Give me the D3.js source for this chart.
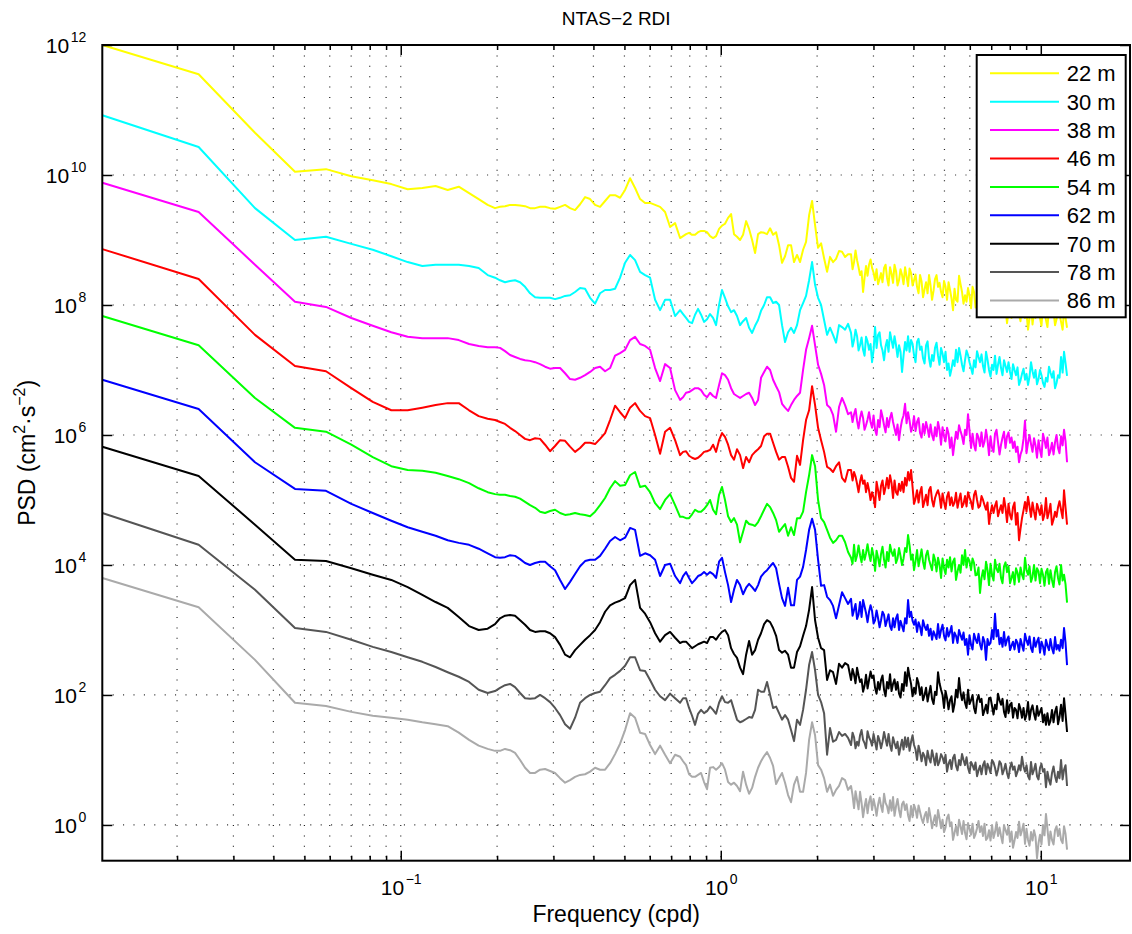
<!DOCTYPE html>
<html>
<head>
<meta charset="utf-8">
<script src="https://cdnjs.cloudflare.com/ajax/libs/d3/7.8.5/d3.min.js"></script>
<style>
  body { margin: 0; background: #fff; }
  svg { font-family: "Liberation Sans", Arial, Helvetica, sans-serif; }
</style>
</head>
<body>
<svg></svg>
<script>
// frequency (cpd), shared by every depth
let freq = [
  0.01168, 0.02336, 0.03504, 0.04672, 0.0584, 0.07008, 0.08176, 0.09344, 0.1051, 0.1168, 0.1285, 0.1402, 0.1518, 0.1635, 0.1752, 0.1869,
  0.1971, 0.2043, 0.2118, 0.2196, 0.2276, 0.2360, 0.2446, 0.2536, 0.2629, 0.2725, 0.2825, 0.2928, 0.3035, 0.3147, 0.3262, 0.3381, 0.3505, 0.3634, 0.3767, 0.3905,
  0.4048, 0.4196, 0.4350, 0.4509, 0.4674, 0.4846, 0.5023, 0.5207, 0.5398, 0.5596, 0.5801, 0.6013, 0.6234, 0.6462, 0.6699, 0.6944, 0.7199, 0.7462,
  0.7624, 0.7790, 0.7960, 0.8134, 0.8311, 0.8493, 0.8678, 0.8867, 0.9061, 0.9258,
  0.9461, 0.9667, 0.9878, 1.009, 1.031, 1.054, 1.077, 1.100, 1.124, 1.149,
  1.174, 1.200, 1.226, 1.253, 1.280, 1.308, 1.336, 1.366, 1.395, 1.426,
  1.457, 1.489, 1.521, 1.554, 1.588, 1.623, 1.658, 1.694, 1.731, 1.769,
  1.808, 1.847, 1.888, 1.929, 1.971, 2.014, 2.058, 2.103, 2.149, 2.195,
  2.243, 2.292, 2.342, 2.393, 2.446, 2.499, 2.553, 2.609, 2.666, 2.724,
  2.784, 2.844, 2.906, 2.970, 3.035, 3.101, 3.168, 3.238, 3.308, 3.380,
  3.454, 3.529, 3.606, 3.685, 3.766, 3.848, 3.932, 4.017, 4.105, 4.195,
  4.286, 4.380, 4.475, 4.573, 4.672, 4.774, 4.879, 4.985, 5.094, 5.205,
  5.318, 5.434, 5.553, 5.674, 5.798, 5.924, 6.054, 6.186, 6.321, 6.458,
  6.599, 6.743, 6.890, 7.041, 7.194, 7.351, 7.512, 7.675, 7.843, 8.014,
  8.189, 8.367, 8.550, 8.736, 8.927, 9.122, 9.321, 9.524, 9.732, 9.944,
  10.16, 10.38, 10.61, 10.84, 11.08, 11.32, 11.57, 11.82, 12.08
];

// log10 of PSD, one array per depth
let psd22 = [
  12.00, 11.55, 10.65, 10.05, 10.09, 9.98, 9.92, 9.86, 9.78, 9.80, 9.83, 9.77, 9.82, 9.72, 9.63, 9.54,
  9.49, 9.51, 9.52, 9.54, 9.54, 9.53, 9.52, 9.49, 9.49, 9.51, 9.51, 9.49, 9.48, 9.51, 9.54, 9.49, 9.46, 9.55, 9.66, 9.63,
  9.54, 9.51, 9.60, 9.69, 9.69, 9.65, 9.77, 9.95, 9.80, 9.63, 9.57, 9.57, 9.54, 9.51, 9.43, 9.20, 9.26, 9.03,
  9.06, 9.09, 9.11, 9.08, 9.08, 9.12, 9.14, 9.14, 9.12, 9.06,
  9.03, 9.06, 9.17, 9.22, 9.25, 9.34, 9.40, 9.09, 9.05, 9.00,
  9.08, 9.29, 9.17, 9.00, 8.80, 9.09, 9.12, 9.11, 9.09, 9.18,
  9.08, 9.12, 8.92, 8.65, 8.75, 8.92, 8.92, 8.66, 8.77, 8.66,
  8.85, 8.97, 9.38, 9.60, 9.23, 8.88, 8.95, 8.72, 8.51, 8.74,
  8.66, 8.71, 8.83, 8.82, 8.74, 8.78, 8.78, 8.66, 8.69, 8.46,
  8.20, 8.60, 8.62, 8.57, 8.38, 8.32, 8.49, 8.57, 8.42, 8.58,
  8.34, 8.52, 8.38, 8.46, 8.58, 8.29, 8.49, 8.38, 8.28, 8.46,
  8.12, 8.35, 8.46, 8.08, 8.40, 8.28, 8.20, 8.37, 8.08, 8.23,
  7.92, 8.08, 8.45, 8.20, 8.15, 8.26, 7.95, 8.20, 8.08, 8.26,
  8.00, 8.14, 7.92, 8.11, 7.98, 8.20, 7.89, 8.08, 7.72, 8.11,
  7.92, 8.05, 7.85, 8.08, 7.80, 7.62, 8.00, 7.89, 8.08, 7.80,
  8.00, 7.77, 7.95, 7.85, 7.69, 8.00, 7.74, 7.92, 7.65
];
let psd30 = [
  10.92, 10.43, 9.49, 9.00, 9.05, 8.94, 8.85, 8.75, 8.66, 8.60, 8.62, 8.62, 8.62, 8.60, 8.57, 8.46,
  8.42, 8.38, 8.35, 8.37, 8.38, 8.35, 8.28, 8.18, 8.12, 8.11, 8.11, 8.11, 8.09, 8.11, 8.14, 8.15, 8.20, 8.26, 8.25, 8.11,
  8.02, 8.18, 8.23, 8.23, 8.25, 8.42, 8.65, 8.77, 8.69, 8.51, 8.46, 8.42, 8.08, 7.92, 8.08, 8.08, 7.83, 7.92,
  7.86, 7.80, 7.74, 7.72, 7.85, 7.94, 7.85, 7.74, 7.78, 7.86,
  7.80, 7.69, 8.00, 8.23, 8.11, 7.98, 7.89, 7.92, 7.83, 7.69,
  7.75, 7.80, 7.65, 7.57, 7.68, 7.77, 7.91, 8.00, 8.12, 8.12,
  8.03, 8.05, 8.00, 7.69, 7.43, 7.58, 7.65, 7.57, 7.69, 7.92,
  8.03, 8.14, 8.38, 8.66, 8.31, 8.11, 8.00, 7.77, 7.54, 7.65,
  7.54, 7.42, 7.69, 7.66, 7.62, 7.71, 7.57, 7.46, 7.52, 7.38,
  7.31, 7.51, 7.31, 7.12, 7.66, 7.54, 7.38, 7.15, 7.46, 7.58,
  7.34, 7.38, 7.38, 6.97, 7.43, 7.52, 7.46, 7.23, 7.43, 7.31,
  7.18, 7.38, 7.18, 7.23, 7.34, 7.22, 7.34, 7.12, 7.00, 6.91,
  7.15, 7.31, 7.34, 7.08, 7.15, 7.23, 7.03, 7.15, 7.29, 7.12,
  7.06, 7.28, 7.00, 7.08, 7.22, 7.08, 7.03, 7.15, 6.97, 6.97,
  7.09, 6.92, 6.77, 6.94, 6.85, 6.77, 7.12, 6.88, 6.78, 7.00,
  6.80, 6.88, 7.05, 6.88, 6.72, 6.92, 7.20, 7.28, 6.91
];
let psd38 = [
  9.88, 9.43, 8.62, 8.05, 7.97, 7.80, 7.68, 7.58, 7.51, 7.49, 7.49, 7.49, 7.46, 7.40, 7.37, 7.35,
  7.35, 7.34, 7.29, 7.23, 7.20, 7.17, 7.15, 7.14, 7.12, 7.09, 7.05, 7.02, 7.03, 7.03, 6.95, 6.86, 6.85, 6.88, 6.92, 6.97,
  7.03, 7.05, 6.98, 7.03, 7.22, 7.26, 7.31, 7.46, 7.51, 7.40, 7.37, 7.31, 7.03, 6.83, 7.09, 7.03, 6.69, 6.54,
  6.58, 6.65, 6.66, 6.69, 6.72, 6.72, 6.69, 6.62, 6.58, 6.65,
  6.60, 6.57, 6.77, 6.95, 6.92, 6.85, 6.72, 6.63, 6.60, 6.57,
  6.60, 6.63, 6.65, 6.57, 6.46, 6.54, 6.88, 6.97, 7.05, 7.00,
  6.85, 6.75, 6.66, 6.48, 6.42, 6.37, 6.46, 6.54, 6.60, 6.65,
  7.00, 7.31, 7.49, 7.68, 7.38, 7.08, 6.94, 6.77, 6.46, 6.42,
  6.31, 6.05, 6.43, 6.57, 6.46, 6.32, 6.35, 6.32, 6.22, 6.26,
  6.26, 6.15, 6.35, 6.11, 6.08, 6.23, 6.38, 6.15, 6.26, 6.26,
  6.20, 6.00, 5.92, 6.23, 6.48, 6.35, 6.05, 6.29, 6.20, 6.03,
  6.17, 6.20, 5.97, 6.00, 6.12, 6.20, 5.85, 5.98, 6.11, 5.80,
  5.69, 6.05, 6.15, 5.98, 6.08, 6.32, 5.80, 5.85, 6.02, 5.83,
  5.82, 6.08, 5.69, 5.80, 6.02, 5.89, 5.85, 6.05, 5.98, 5.88,
  5.80, 5.74, 5.58, 5.77, 6.22, 5.88, 5.86, 5.95, 5.65, 5.77,
  6.02, 5.80, 5.69, 5.88, 5.89, 5.80, 5.98, 6.08, 5.58
];
let psd46 = [
  8.86, 8.40, 7.54, 7.06, 6.98, 6.72, 6.51, 6.38, 6.38, 6.42, 6.46, 6.49, 6.49, 6.38, 6.29, 6.25,
  6.23, 6.20, 6.17, 6.11, 6.06, 6.00, 5.94, 5.92, 5.95, 5.94, 5.85, 5.75, 5.83, 5.92, 5.91, 5.82, 5.74, 5.80, 5.88, 5.88,
  5.86, 5.94, 6.03, 6.23, 6.45, 6.35, 6.26, 6.42, 6.49, 6.37, 6.29, 6.26, 6.00, 5.71, 6.05, 6.11, 5.92, 5.69,
  5.74, 5.75, 5.68, 5.65, 5.63, 5.65, 5.69, 5.74, 5.75, 5.77,
  5.85, 5.74, 5.92, 6.03, 5.97, 5.85, 5.69, 5.62, 5.78, 5.69,
  5.49, 5.66, 5.58, 5.69, 5.74, 5.78, 5.83, 5.98, 6.02, 6.02,
  5.88, 5.74, 5.62, 5.66, 5.66, 5.51, 5.34, 5.28, 5.68, 5.54,
  5.92, 6.23, 6.38, 6.75, 6.46, 6.11, 5.92, 5.74, 5.51, 5.48,
  5.43, 5.52, 5.58, 5.34, 5.28, 5.46, 5.46, 5.43, 5.25, 5.28,
  5.25, 5.12, 5.15, 5.12, 4.89, 5.15, 5.22, 5.09, 5.34, 5.38,
  5.03, 5.12, 5.25, 5.28, 5.34, 5.43, 5.46, 4.94, 5.15, 5.12,
  4.89, 5.08, 5.15, 5.00, 5.03, 5.15, 4.88, 4.97, 5.05, 4.92,
  4.91, 5.11, 5.00, 4.89, 5.06, 5.12, 4.97, 5.08, 5.00, 4.91,
  5.00, 4.85, 4.63, 4.92, 4.91, 4.75, 4.92, 5.03, 4.66, 4.77,
  4.89, 4.62, 4.38, 4.72, 4.97, 5.05, 4.74, 4.82, 4.94, 4.77,
  4.69, 5.03, 4.82, 4.62, 4.82, 4.89, 4.85, 5.15, 4.62
];
let psd54 = [
  7.83, 7.38, 6.57, 6.11, 6.05, 5.85, 5.66, 5.52, 5.46, 5.45, 5.42, 5.37, 5.32, 5.26, 5.18, 5.12,
  5.09, 5.08, 5.08, 5.06, 5.05, 5.02, 4.97, 4.92, 4.88, 4.82, 4.80, 4.83, 4.85, 4.80, 4.77, 4.78, 4.80, 4.78, 4.77, 4.75,
  4.82, 4.92, 5.03, 5.18, 5.29, 5.22, 5.23, 5.38, 5.43, 5.20, 5.22, 5.12, 4.95, 4.86, 5.00, 5.09, 4.92, 4.74,
  4.74, 4.72, 4.72, 4.78, 4.85, 4.82, 4.82, 4.86, 4.92, 5.00,
  4.85, 4.78, 5.08, 5.20, 5.00, 4.75, 4.66, 4.72, 4.62, 4.35,
  4.51, 4.68, 4.63, 4.62, 4.60, 4.66, 4.75, 4.85, 4.94, 4.89,
  4.80, 4.69, 4.51, 4.57, 4.63, 4.45, 4.58, 4.46, 4.72, 4.72,
  4.82, 5.12, 5.38, 5.69, 5.52, 5.00, 4.72, 4.66, 4.54, 4.42,
  4.34, 4.38, 4.45, 4.45, 4.35, 4.20, 4.11, 4.31, 4.15, 4.15,
  4.23, 4.18, 4.17, 4.26, 3.91, 4.11, 4.17, 4.08, 4.20, 4.31,
  4.14, 4.03, 4.26, 4.00, 4.26, 4.46, 4.08, 3.92, 4.23, 4.11,
  4.05, 4.15, 4.08, 3.92, 4.08, 4.11, 3.80, 3.95, 4.08, 4.12,
  4.05, 3.77, 4.00, 4.15, 4.23, 4.11, 3.92, 4.03, 3.85, 3.57,
  3.92, 4.05, 3.69, 3.85, 4.08, 3.89, 3.80, 3.98, 3.89, 3.72,
  3.89, 3.95, 3.74, 3.85, 4.11, 3.85, 3.74, 4.00, 3.95, 3.72,
  3.85, 3.89, 3.71, 3.77, 3.89, 3.80, 4.00, 3.85, 3.42
];
let psd62 = [
  6.85, 6.40, 5.58, 5.17, 5.14, 4.94, 4.80, 4.68, 4.58, 4.51, 4.45, 4.38, 4.34, 4.31, 4.25, 4.18,
  4.12, 4.11, 4.12, 4.15, 4.14, 4.09, 4.03, 4.00, 4.03, 4.05, 4.05, 3.98, 3.92, 3.77, 3.63, 3.74, 3.86, 3.98, 4.06, 4.08,
  4.08, 4.14, 4.25, 4.37, 4.43, 4.38, 4.42, 4.57, 4.54, 4.14, 4.18, 4.15, 4.08, 3.83, 4.00, 4.02, 3.83, 3.72,
  3.83, 3.89, 3.80, 3.72, 3.77, 3.83, 3.85, 3.89, 3.85, 3.89,
  3.86, 3.80, 4.05, 4.11, 3.89, 3.69, 3.43, 3.62, 3.77, 3.69,
  3.55, 3.65, 3.71, 3.66, 3.60, 3.69, 3.82, 3.88, 3.92, 3.98,
  4.03, 3.95, 3.71, 3.49, 3.37, 3.65, 3.38, 3.38, 3.77, 3.82,
  3.97, 4.23, 4.54, 4.71, 4.54, 4.08, 3.68, 3.69, 3.51, 3.46,
  3.37, 3.18, 3.38, 3.58, 3.49, 3.40, 3.48, 3.31, 3.17, 3.43,
  3.46, 3.26, 3.28, 3.29, 3.15, 3.18, 3.15, 3.23, 3.15, 3.06,
  3.18, 3.18, 3.00, 3.06, 3.18, 3.46, 3.28, 3.08, 2.97, 3.05,
  3.15, 3.00, 2.91, 2.85, 2.92, 3.09, 3.00, 2.91, 3.03, 2.97,
  2.80, 2.91, 3.00, 2.85, 2.77, 2.62, 2.77, 2.94, 2.80, 2.78,
  2.89, 2.54, 2.77, 3.00, 3.25, 3.00, 2.88, 2.97, 2.85, 2.69,
  2.82, 2.85, 2.66, 2.77, 2.94, 2.77, 2.72, 2.88, 2.82, 2.65,
  2.75, 2.85, 2.69, 2.72, 2.89, 2.77, 2.85, 3.03, 2.46
];
let psd70 = [
  5.82, 5.37, 4.62, 4.08, 4.06, 3.95, 3.85, 3.77, 3.66, 3.54, 3.43, 3.34, 3.20, 3.06, 3.00, 3.02,
  3.09, 3.18, 3.22, 3.23, 3.22, 3.15, 3.08, 3.00, 2.97, 2.98, 2.98, 2.95, 2.89, 2.77, 2.62, 2.58, 2.69, 2.77, 2.85, 2.92,
  3.00, 3.12, 3.28, 3.38, 3.42, 3.45, 3.49, 3.69, 3.77, 3.34, 3.25, 3.12, 2.95, 2.82, 2.92, 2.97, 2.88, 2.80,
  2.82, 2.82, 2.77, 2.72, 2.75, 2.78, 2.80, 2.82, 2.80, 2.89,
  2.89, 2.85, 2.92, 2.97, 3.00, 2.92, 2.72, 2.63, 2.57, 2.42,
  2.32, 2.62, 2.83, 2.62, 2.69, 2.85, 2.95, 3.09, 3.15, 3.12,
  3.03, 2.91, 2.69, 2.65, 2.68, 2.62, 2.42, 2.42, 2.66, 2.75,
  2.91, 3.06, 3.31, 3.66, 3.15, 2.88, 2.72, 2.69, 2.23, 2.38,
  2.35, 2.17, 2.48, 2.42, 2.49, 2.46, 2.23, 2.31, 2.42, 2.20,
  2.05, 2.31, 2.23, 2.26, 2.11, 2.20, 2.23, 2.08, 2.20, 2.32,
  2.17, 2.08, 2.02, 2.17, 2.35, 2.42, 2.17, 2.11, 2.26, 2.00,
  1.92, 2.11, 2.02, 1.94, 2.05, 2.35, 2.08, 1.80, 1.95, 1.92,
  1.74, 2.08, 2.26, 1.92, 1.88, 2.08, 1.92, 1.80, 1.92, 1.89,
  1.69, 1.85, 1.95, 1.83, 1.85, 2.02, 1.85, 1.74, 1.92, 1.85,
  1.65, 1.77, 1.86, 1.65, 1.62, 1.89, 1.77, 1.71, 1.83, 1.74,
  1.58, 1.54, 1.54, 1.77, 1.74, 1.55, 1.85, 1.95, 1.43
];
let psd78 = [
  4.80, 4.31, 3.62, 3.03, 2.97, 2.85, 2.74, 2.66, 2.58, 2.51, 2.43, 2.35, 2.28, 2.20, 2.08, 2.03,
  2.06, 2.11, 2.15, 2.17, 2.12, 2.03, 1.95, 1.94, 1.95, 2.00, 1.95, 1.89, 1.80, 1.69, 1.55, 1.48, 1.65, 1.88, 1.95, 2.00,
  2.03, 2.05, 2.15, 2.26, 2.31, 2.37, 2.45, 2.58, 2.58, 2.38, 2.37, 2.23, 2.08, 1.98, 1.92, 2.02, 1.95, 1.88,
  1.95, 1.95, 1.80, 1.68, 1.54, 1.71, 1.77, 1.72, 1.75, 1.82,
  1.77, 1.71, 1.88, 1.98, 1.89, 1.88, 1.92, 1.77, 1.62, 1.58,
  1.60, 1.63, 1.66, 1.65, 1.77, 2.08, 2.05, 2.05, 2.20, 2.00,
  1.80, 1.82, 1.72, 1.62, 1.69, 1.62, 1.46, 1.29, 1.62, 1.54,
  1.77, 2.08, 2.46, 2.66, 2.38, 2.00, 1.89, 1.72, 1.08, 1.49,
  1.28, 1.31, 1.43, 1.37, 1.40, 1.34, 1.23, 1.35, 1.28, 1.38,
  1.31, 1.18, 1.35, 1.22, 1.28, 1.37, 1.18, 1.43, 1.22, 1.23,
  1.35, 1.18, 1.08, 1.31, 1.35, 1.34, 1.28, 1.23, 1.00, 1.12,
  1.11, 0.92, 1.03, 1.15, 0.92, 0.92, 1.09, 0.95, 0.82, 1.00,
  1.03, 0.91, 1.00, 1.09, 0.92, 0.88, 0.97, 0.85, 0.75, 0.91,
  0.92, 0.78, 0.88, 1.00, 0.88, 0.85, 0.94, 0.85, 0.80, 0.88,
  0.85, 0.75, 0.92, 1.05, 0.82, 0.75, 0.97, 0.85, 0.75, 0.88,
  0.82, 0.58, 0.69, 0.80, 0.75, 0.82, 1.00, 0.85, 0.60
];
let psd86 = [
  3.80, 3.35, 2.54, 1.88, 1.83, 1.74, 1.68, 1.65, 1.62, 1.58, 1.55, 1.52, 1.42, 1.31, 1.22, 1.17,
  1.14, 1.14, 1.17, 1.15, 1.11, 1.00, 0.88, 0.80, 0.80, 0.85, 0.86, 0.83, 0.80, 0.72, 0.65, 0.69, 0.74, 0.77, 0.78, 0.82,
  0.88, 0.85, 0.85, 0.95, 1.09, 1.25, 1.46, 1.72, 1.65, 1.42, 1.40, 1.23, 1.09, 1.22, 1.08, 0.95, 1.08, 1.05,
  0.98, 0.92, 0.78, 0.74, 0.74, 0.77, 0.80, 0.66, 0.55, 0.88,
  0.89, 0.85, 0.89, 0.95, 0.85, 0.66, 0.62, 0.65, 0.60, 0.52,
  0.82, 0.62, 0.48, 0.57, 0.74, 0.88, 0.98, 1.06, 1.12, 1.03,
  0.91, 0.63, 0.72, 0.80, 0.65, 0.46, 0.35, 0.62, 0.74, 0.51,
  0.51, 0.80, 1.31, 1.58, 1.38, 0.92, 0.85, 0.72, 0.51, 0.62,
  0.45, 0.54, 0.60, 0.72, 0.69, 0.54, 0.60, 0.26, 0.38, 0.51,
  0.12, 0.40, 0.35, 0.23, 0.29, 0.31, 0.29, 0.48, 0.29, 0.38,
  0.43, 0.29, 0.23, 0.32, 0.23, 0.15, 0.29, 0.31, 0.11, 0.20,
  0.03, 0.20, 0.26, -0.05, 0.15, 0.23, -0.05, -0.11, 0.11, -0.02,
  -0.23, -0.02, 0.08, -0.14, -0.12, 0.03, -0.15, -0.20, -0.05, -0.11,
  -0.17, -0.23, -0.08, 0.00, -0.11, -0.17, -0.17, 0.00, -0.15, -0.26,
  -0.35, -0.11, 0.05, -0.08, -0.29, -0.23, -0.11, -0.08, -0.51, -0.15,
  0.00, 0.17, -0.31, -0.23, -0.08, -0.17, -0.23, -0.02, -0.38
];

// extra samples in the noisy band above ~2.5 cpd (log10 PSD)
let freqHi = [
  2.581, 2.637, 2.695, 2.754, 2.814, 2.875, 2.938, 3.002, 3.068, 3.135,
  3.202, 3.273, 3.344, 3.417, 3.491, 3.567, 3.645, 3.725, 3.807, 3.890,
  3.975, 4.061, 4.150, 4.241, 4.333, 4.428, 4.524, 4.623, 4.723, 4.826,
  4.932, 5.039, 5.149, 5.261, 5.376, 5.493, 5.613, 5.736, 5.861, 5.988,
  6.120, 6.253, 6.390, 6.528, 6.671, 6.816, 6.965, 7.117, 7.272, 7.431,
  7.593, 7.758, 7.928, 8.101, 8.278, 8.458, 8.643, 8.831, 9.024, 9.221,
  9.422, 9.627, 9.838, 10.05, 10.27, 10.49, 10.72, 10.96, 11.20, 11.44,
  11.70, 11.95
];
let hi22 = [
  8.55, 8.84, 8.58, 8.52, 8.42, 8.45, 8.70, 8.50, 8.55, 8.40,
  8.35, 8.62, 8.30, 8.48, 8.62, 8.30, 8.55, 8.32, 8.44, 8.56,
  8.30, 8.47, 8.18, 8.36, 8.24, 8.18, 8.30, 8.22, 8.46, 8.34,
  8.12, 8.28, 8.35, 8.10, 8.25, 8.05, 8.32, 8.02, 8.05, 8.14,
  8.28, 7.96, 8.12, 8.30, 7.88, 8.20, 7.98, 8.18, 7.86, 8.02,
  8.16, 7.95, 7.90, 7.80, 8.12, 7.92, 7.75, 7.95, 7.88, 7.80,
  7.70, 7.80, 7.96, 7.68, 7.90, 7.66, 8.04, 7.90, 7.78, 7.86,
  7.62, 7.80
];
let hi30 = [
  7.36, 7.62, 7.30, 7.50, 7.22, 7.44, 7.40, 7.30, 7.34, 7.58,
  7.30, 7.36, 7.28, 7.46, 7.52, 7.20, 7.28, 7.22, 7.30, 7.28,
  7.40, 7.12, 7.48, 7.36, 7.10, 7.44, 7.05, 7.14, 7.42, 7.08,
  7.25, 7.28, 7.10, 7.02, 7.06, 7.12, 7.22, 6.98, 7.30, 7.12,
  6.94, 7.04, 7.20, 7.24, 6.96, 7.16, 6.90, 7.00, 6.94, 7.20,
  6.92, 7.06, 7.12, 6.86, 7.00, 7.04, 6.84, 7.02, 6.94, 6.90,
  6.98, 7.00, 6.86, 6.92, 6.74, 6.82, 6.96, 6.98, 6.80, 6.88,
  6.96, 7.10
];
let hi38 = [
  6.20, 6.40, 6.10, 6.36, 6.08, 6.24, 6.20, 6.30, 6.00, 6.12,
  6.28, 6.04, 6.12, 6.34, 6.10, 6.16, 6.10, 6.30, 6.18, 6.22,
  6.12, 6.06, 6.26, 5.96, 6.02, 6.10, 6.16, 5.92, 5.98, 6.08,
  6.12, 5.90, 6.02, 5.96, 5.88, 5.94, 6.06, 5.86, 6.00, 6.06,
  6.02, 5.76, 5.96, 6.04, 5.90, 5.92, 5.98, 5.74, 6.08, 5.70,
  5.96, 5.80, 6.04, 5.96, 5.90, 5.82, 5.70, 5.94, 5.72, 6.00,
  5.74, 5.84, 5.92, 5.66, 5.92, 5.96, 5.76, 5.70, 6.00, 5.72,
  5.84, 5.90
];
let hi46 = [
  5.30, 5.36, 5.12, 5.38, 5.30, 5.26, 5.00, 5.04, 5.28, 5.00,
  5.30, 5.20, 5.18, 5.26, 5.30, 5.08, 5.14, 5.12, 5.22, 5.30,
  5.20, 5.02, 4.96, 5.20, 4.98, 4.92, 5.20, 4.90, 5.10, 5.06,
  5.10, 4.86, 5.12, 5.04, 4.96, 4.88, 5.10, 4.94, 4.90, 5.04,
  4.86, 5.14, 4.88, 5.06, 4.92, 4.96, 4.80, 4.80, 4.98, 4.84,
  4.80, 4.88, 4.94, 4.70, 4.96, 4.80, 4.56, 4.84, 4.82, 4.90,
  4.96, 4.70, 4.86, 4.92, 4.78, 4.72, 4.94, 4.70, 4.74, 4.98,
  4.72, 4.88
];
let hi54 = [
  4.02, 4.06, 4.30, 4.04, 4.08, 4.32, 4.06, 4.14, 4.22, 3.98,
  4.28, 3.96, 4.06, 4.20, 4.24, 4.10, 4.14, 4.10, 4.20, 4.30,
  4.16, 4.06, 3.98, 4.24, 3.94, 4.22, 4.00, 4.16, 3.90, 4.00,
  4.10, 3.86, 3.96, 3.90, 4.10, 3.90, 3.88, 4.00, 3.96, 4.06,
  4.10, 3.84, 3.96, 3.80, 3.78, 3.92, 4.02, 3.76, 3.94, 4.02,
  3.72, 4.04, 3.98, 3.80, 3.70, 3.88, 3.96, 3.78, 3.92, 3.98,
  3.82, 3.76, 3.90, 3.94, 3.68, 3.94, 3.92, 3.66, 3.98, 3.70,
  3.76, 3.70
];
let hi62 = [
  3.22, 3.40, 3.24, 3.20, 3.36, 3.12, 3.38, 3.10, 3.30, 3.04,
  3.28, 3.06, 3.24, 3.00, 3.04, 3.24, 3.14, 2.98, 3.10, 3.20,
  3.14, 3.16, 3.12, 2.92, 3.06, 3.08, 3.02, 2.98, 2.86, 2.88,
  3.08, 2.84, 2.90, 3.06, 2.96, 2.80, 2.92, 2.96, 2.86, 2.92,
  2.70, 2.86, 2.94, 2.70, 2.82, 2.86, 2.80, 2.86, 2.90, 2.78,
  2.74, 2.76, 2.90, 2.76, 2.70, 2.80, 2.86, 2.68, 2.84, 2.90,
  2.66, 2.74, 2.88, 2.82, 2.62, 2.76, 2.86, 2.64, 2.70, 2.68,
  2.72, 2.80
];
let hi70 = [
  2.40, 2.18, 2.30, 2.24, 2.14, 2.10, 2.36, 2.30, 2.02, 2.08,
  2.30, 1.98, 2.10, 2.06, 2.24, 2.20, 1.96, 2.06, 2.14, 2.28,
  1.98, 2.02, 2.18, 2.12, 2.00, 1.90, 2.14, 1.86, 2.00, 2.18,
  2.00, 2.06, 1.78, 1.98, 1.86, 1.96, 2.04, 2.04, 1.80, 1.86,
  2.00, 1.72, 2.00, 1.94, 1.76, 1.72, 1.96, 1.70, 1.78, 1.92,
  1.94, 1.66, 1.72, 1.88, 1.80, 1.64, 1.78, 1.80, 1.70, 1.62,
  1.84, 1.62, 1.68, 1.80, 1.70, 1.72, 1.60, 1.58, 1.82, 1.66,
  1.60, 1.70
];
let hi78 = [
  1.42, 1.18, 1.22, 1.46, 1.26, 1.44, 1.30, 1.40, 1.16, 1.30,
  1.28, 1.32, 1.40, 1.14, 1.26, 1.28, 1.20, 1.16, 1.20, 1.14,
  1.38, 1.16, 1.22, 0.98, 1.06, 1.14, 0.96, 1.04, 1.10, 0.98,
  1.04, 1.08, 0.94, 0.86, 1.08, 0.84, 0.92, 1.00, 1.04, 0.80,
  0.92, 0.96, 0.84, 0.78, 0.98, 0.94, 0.80, 0.96, 0.76, 0.98,
  0.78, 0.94, 0.72, 0.96, 0.90, 0.82, 0.84, 0.90, 0.92, 0.70,
  0.78, 0.94, 0.70, 0.94, 0.86, 0.82, 0.62, 0.90, 0.66, 0.72,
  0.70, 0.92
];
let hi86 = [
  0.46, 0.52, 0.24, 0.34, 0.28, 0.18, 0.44, 0.40, 0.14, 0.42,
  0.20, 0.34, 0.18, 0.22, 0.14, 0.40, 0.12, 0.36, 0.32, 0.06,
  0.12, 0.24, 0.30, 0.10, 0.14, 0.04, 0.12, 0.06, -0.02, 0.10,
  0.08, -0.04, 0.16, 0.04, -0.12, -0.16, -0.02, 0.06, -0.22, -0.06,
  0.02, -0.14, 0.06, -0.02, 0.02, -0.20, -0.24, -0.20, 0.04, -0.04,
  -0.28, -0.08, -0.02, -0.10, -0.24, -0.20, -0.16, 0.02, -0.06, -0.32,
  -0.24, -0.18, -0.28, -0.30, -0.16, -0.06, -0.10, -0.30, -0.02, -0.06,
  -0.28, -0.14
];

let depths = ["22 m", "30 m", "38 m", "46 m", "54 m", "62 m", "70 m", "78 m", "86 m"];
let series = [psd22, psd30, psd38, psd46, psd54, psd62, psd70, psd78, psd86];
let seriesHi = [hi22, hi30, hi38, hi46, hi54, hi62, hi70, hi78, hi86];
let colors = ["#ffff00", "#00ffff", "#ff00ff", "#ff0000", "#00ff00", "#0000ff", "#000000", "#555555", "#aaaaaa"];
let xMajor = [0.1, 1, 10];
let yTicks = [1e0, 1e2, 1e4, 1e6, 1e8, 1e10, 1e12];

let w = 1132;
let h = 934;
let plotL = 102.3;
let plotR = 1130;
let plotT = 45;
let plotB = 860.7;

let svg = d3.select("svg");
let xScale;
let yScale;

let drawCanvas = () => {
  svg.attr("width", w).attr("height", h);
  svg.append("rect").attr("width", w).attr("height", h).attr("fill", "#fff");
  svg.append("clipPath").attr("id", "plot-clip")
    .append("rect")
    .attr("x", plotL).attr("y", plotT)
    .attr("width", plotR - plotL).attr("height", plotB - plotT);
};

let generateScales = () => {
  xScale = d3.scaleLog().domain([0.01168, 19]).range([plotL, plotR]);
  yScale = d3.scaleLog().domain([Math.pow(10, -0.55), 1e12]).range([plotB, plotT]);
};

let isMajor = (t) => Math.abs(Math.log10(t) - Math.round(Math.log10(t))) < 1e-6;

let drawGrid = () => {
  let grid = svg.append("g")
    .attr("stroke", "#222")
    .attr("stroke-width", 1.2)
    .attr("stroke-dasharray", "1,9.4");
  grid.selectAll(".vgrid")
    .data(xScale.ticks())
    .enter()
    .append("line")
    .attr("x1", (d) => xScale(d)).attr("x2", (d) => xScale(d))
    .attr("y1", plotT).attr("y2", plotB);
  grid.selectAll(".hgrid")
    .data(yTicks)
    .enter()
    .append("line")
    .attr("x1", plotL).attr("x2", plotR)
    .attr("y1", (d) => yScale(d)).attr("y2", (d) => yScale(d));
};

let drawLines = () => {
  let line = d3.line()
    .x((d) => xScale(d[0]))
    .y((d) => yScale(Math.pow(10, d[1])));
  let g = svg.append("g").attr("clip-path", "url(#plot-clip)");
  series.forEach((vals, i) => {
    let pts = d3.zip(freq, vals)
      .concat(d3.zip(freqHi, seriesHi[i]))
      .sort((a, b) => a[0] - b[0]);
    g.append("path")
      .datum(pts)
      .attr("fill", "none")
      .attr("stroke", colors[i])
      .attr("stroke-width", 2)
      .attr("stroke-linejoin", "round")
      .attr("d", line);
  });
};

let powerLabel = (sel, d) => {
  let p = Math.round(Math.log10(d));
  let t = sel.text(null);
  t.append("tspan").text("10");
  t.append("tspan").attr("dx", 1.5).attr("dy", -11).attr("font-size", 14).text(String(p).replace("-", "\u2212"));
};

let drawAxis = () => {
  let xMinor = xScale.ticks().filter((t) => !isMajor(t));
  let styleAxis = (g) => {
    g.select(".domain").remove();
    g.selectAll(".tick line").attr("stroke", "#000").attr("stroke-width", 1.5);
    g.attr("font-family", null).attr("font-size", 21);
  };

  // bottom
  svg.append("g").attr("transform", `translate(0,${plotB})`)
    .call(d3.axisBottom(xScale).tickValues(xMinor).tickSizeInner(-5).tickSizeOuter(0).tickFormat(""))
    .call(styleAxis);
  svg.append("g").attr("transform", `translate(0,${plotB})`)
    .call(d3.axisBottom(xScale).tickValues(xMajor).tickSizeInner(-10).tickSizeOuter(0).tickPadding(19))
    .call(styleAxis)
    .call((g) => g.selectAll(".tick text").attr("fill", "#000").each(function (d) { powerLabel(d3.select(this), d); }));
  // top
  svg.append("g").attr("transform", `translate(0,${plotT})`)
    .call(d3.axisTop(xScale).tickValues(xMinor).tickSizeInner(-5).tickSizeOuter(0).tickFormat(""))
    .call(styleAxis);
  svg.append("g").attr("transform", `translate(0,${plotT})`)
    .call(d3.axisTop(xScale).tickValues(xMajor).tickSizeInner(-10).tickSizeOuter(0).tickFormat(""))
    .call(styleAxis);
  // left
  svg.append("g").attr("transform", `translate(${plotL},0)`)
    .call(d3.axisLeft(yScale).tickValues(yTicks).tickSizeInner(-10).tickSizeOuter(0).tickPadding(16))
    .call(styleAxis)
    .call((g) => g.selectAll(".tick text").attr("fill", "#000").attr("dy", "0.36em").each(function (d) { powerLabel(d3.select(this), d); }));
  // right
  svg.append("g").attr("transform", `translate(${plotR},0)`)
    .call(d3.axisRight(yScale).tickValues(yTicks).tickSizeInner(-10).tickSizeOuter(0).tickFormat(""))
    .call(styleAxis);

  svg.append("rect")
    .attr("x", plotL).attr("y", plotT)
    .attr("width", plotR - plotL).attr("height", plotB - plotT)
    .attr("fill", "none").attr("stroke", "#000").attr("stroke-width", 2);
};

let drawLabels = () => {
  let cx = (plotL + plotR) / 2;
  svg.append("text")
    .attr("x", cx).attr("y", 25)
    .attr("text-anchor", "middle").attr("font-size", 19)
    .text("NTAS\u22122 RDI");
  svg.append("text")
    .attr("x", cx).attr("y", 922)
    .attr("text-anchor", "middle").attr("font-size", 23)
    .text("Frequency (cpd)");
  let yl = svg.append("text")
    .attr("transform", `translate(35,${(plotT + plotB) / 2}) rotate(-90)`)
    .attr("text-anchor", "middle").attr("font-size", 23);
  yl.append("tspan").text("PSD (cm");
  yl.append("tspan").attr("dy", -10).attr("font-size", 16).text("2");
  yl.append("tspan").attr("dy", 10).text("\u00b7s");
  yl.append("tspan").attr("dy", -10).attr("font-size", 16).text("\u22122");
  yl.append("tspan").attr("dy", 10).text(")");
};

let drawLegend = () => {
  let lg = svg.append("g");
  lg.append("rect")
    .attr("x", 976.7).attr("y", 55)
    .attr("width", 149).attr("height", 262.3)
    .attr("fill", "#fff").attr("stroke", "#000").attr("stroke-width", 2);
  let rows = lg.selectAll(".row")
    .data(depths)
    .enter()
    .append("g")
    .attr("transform", (d, i) => `translate(0,${73.3 + i * 28.4})`);
  rows.append("line")
    .attr("x1", 990).attr("x2", 1059)
    .attr("stroke", (d, i) => colors[i])
    .attr("stroke-width", 2);
  rows.append("text")
    .attr("x", 1066.7).attr("y", 7.8)
    .attr("font-size", 22)
    .text((d) => d);
};

drawCanvas();
generateScales();
drawGrid();
drawLines();
drawAxis();
drawLabels();
drawLegend();
</script>
</body>
</html>
